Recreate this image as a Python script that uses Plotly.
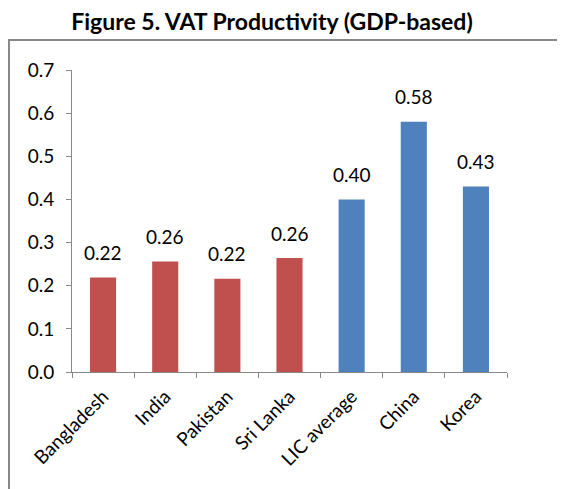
import plotly.graph_objects as go

categories = ["Bangladesh", "India", "Pakistan", "Sri Lanka", "LIC average", "China", "Korea"]
values = [0.219, 0.256, 0.216, 0.264, 0.400, 0.580, 0.430]
colors = ["#C0504D", "#C0504D", "#C0504D", "#C0504D", "#4F81BD", "#4F81BD", "#4F81BD"]

OFF = 8  # page body margin
W, H = 565 - OFF, 489 - OFF
L, R, T, B = 72 - OFF, 507 - OFF, 70 - OFF, 372 - OFF
FONT = "Lato, Open Sans, sans-serif"

fig = go.Figure(go.Bar(
    x=categories, y=values, marker=dict(color=colors, line=dict(width=0)),
    width=0.42, hoverinfo="x+y",
))
for c, v in zip(categories, values):
    fig.add_annotation(x=c, y=v, text=f"{v:.2f}", showarrow=False, yanchor="middle",
                       yshift=25, font=dict(size=19, color="black", family=FONT))

fig.update_layout(
    width=W, height=H,
    margin=dict(l=L, r=W - R, t=T, b=H - B),
    paper_bgcolor="white", plot_bgcolor="white",
    showlegend=False,
    font=dict(family=FONT, size=18, color="black"),
    title=dict(text="<b>Figure 5. VAT Productivity (GDP-based)</b>", x=(272 - OFF) / W, xanchor="center",
               y=1 - (22 - OFF) / H, yanchor="middle", font=dict(size=23, family=FONT), automargin=False),
)
fig.update_yaxes(range=[0, 0.7], dtick=0.1, tickformat=".1f", showgrid=False, zeroline=False,
                 showline=True, linecolor="#888888", linewidth=1, ticks="outside", ticklen=5,
                 tickcolor="#888888", tickfont=dict(size=19), ticklabelstandoff=8, automargin=False)
fig.update_xaxes(showgrid=False, showline=True, linecolor="#888888", linewidth=1, ticks="outside",
                 tickson="boundaries", ticklen=5, tickcolor="#888888", tickangle=-45,
                 tickfont=dict(size=19), ticklabelstandoff=5, automargin=False)

pw, ph = R - L, B - T
fig.add_shape(type="rect", xref="paper", yref="paper",
              x0=(1 - L) / pw, x1=(W + 5 - L) / pw,
              y0=(B - (H + 5)) / ph, y1=(B - (40 - OFF)) / ph,
              line=dict(color="#888888", width=2), fillcolor="rgba(0,0,0,0)", layer="below")

fig.write_html("out.html")
